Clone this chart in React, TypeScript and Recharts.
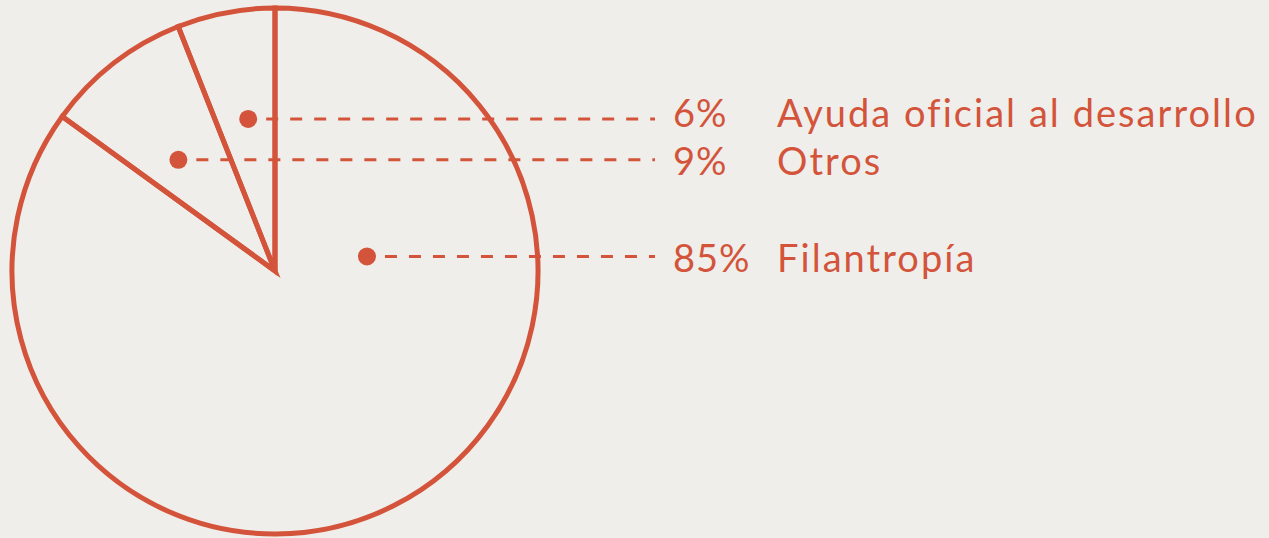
import { PieChart, Pie, Cell } from 'recharts';

document.body.style.margin = '0';

const ORANGE = '#d3543a';
const FONT = "Lato, 'Open Sans', sans-serif";

const categories = ['Ayuda oficial al desarrollo', 'Otros', 'Filantropía'];
const shares = [6, 9, 85];

// where each marker dot sits inside the pie (angle in degrees, fraction of radius)
const dotAngles = [100, 131, 9];
const dotRadii = [0.587, 0.56, 0.354];
// baseline of the text row, below its leader line
const textDrop = [8, 15, 16];

const chartData = categories.map((name, i) => ({ name, value: shares[i] }));

const LINE_END = 655;
const PCT_X = 673;
const NAME_X = 777;

function renderLabel(props: any) {
  const { cx, cy, outerRadius, index } = props;
  const rad = (dotAngles[index] * Math.PI) / 180;
  const r = outerRadius * dotRadii[index];
  const x = cx + r * Math.cos(rad);
  const y = cy - r * Math.sin(rad);
  const ty = y + textDrop[index];
  return (
    <g key={`lbl-${index}`}>
      <circle cx={x} cy={y} r={9} fill={ORANGE} />
      <line
        x1={x + 18}
        y1={y}
        x2={LINE_END}
        y2={y}
        stroke={ORANGE}
        strokeWidth={3}
        strokeDasharray="12 12"
      />
      <text x={PCT_X} y={ty} fill={ORANGE} fontSize={38} letterSpacing={1} fontFamily={FONT}>
        {shares[index]}%
      </text>
      <text x={NAME_X} y={ty} fill={ORANGE} fontSize={38} letterSpacing={2.05} fontFamily={FONT}>
        {categories[index]}
      </text>
    </g>
  );
}

export default function App() {
  return (
    <div style={{ width: 1269, height: 538, background: '#efeeeb' }}>
      <PieChart width={1269} height={538} margin={{ top: 0, right: 0, bottom: 0, left: 0 }}>
        <Pie
          data={chartData}
          dataKey="value"
          nameKey="name"
          cx={275}
          cy={271}
          outerRadius={263}
          startAngle={90}
          endAngle={450}
          stroke={ORANGE}
          strokeWidth={5}
          label={renderLabel}
          labelLine={false}
          isAnimationActive={false}
        >
          {chartData.map((d) => (
            <Cell key={d.name} fill="transparent" stroke={ORANGE} strokeWidth={5} />
          ))}
        </Pie>
      </PieChart>
    </div>
  );
}
